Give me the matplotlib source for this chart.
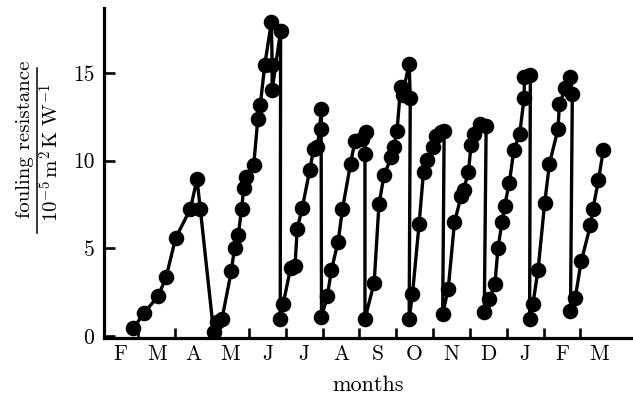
import matplotlib
matplotlib.use("Agg")
import matplotlib.pyplot as plt
import numpy as np

# months elapsed since 1 February (x) and fouling resistance, 1e-5 m2 K / W (y)
months_x = [0.86, 1.16, 1.54, 1.75, 2.01, 2.41, 2.59, 2.68,
            3.04, 3.13, 3.27,
            3.52, 3.61, 3.71, 3.80, 3.86, 3.92, 4.13, 4.24, 4.31, 4.43, 4.61, 4.63, 4.63, 4.86,
            4.85, 4.93, 5.13, 5.25,
            5.31, 5.45, 5.65, 5.76, 5.86, 5.97, 5.96,
            5.97, 6.13, 6.24, 6.42, 6.54, 6.76, 6.88, 7.06, 7.17, 7.15,
            7.15, 7.40, 7.53, 7.67, 7.87, 7.93, 8.02, 8.12, 8.17, 8.35, 8.38,
            8.35, 8.44, 8.62, 8.74, 8.83, 8.99, 9.08, 9.21, 9.30,
            9.26, 9.41, 9.58, 9.76, 9.83, 9.96, 10.03, 10.12, 10.26, 10.44,
            10.39, 10.53, 10.68, 10.76, 10.87, 10.94, 11.07, 11.19, 11.35, 11.47, 11.48, 11.64,
            11.62, 11.71, 11.85, 12.03, 12.16, 12.39, 12.43, 12.59, 12.73, 12.78,
            12.73, 12.86, 13.02, 13.27, 13.34, 13.49, 13.62]
resistance = [0.45, 1.34, 2.30, 3.36, 5.6, 7.25, 8.95, 7.25,
              0.25, 0.8, 1.0,
              3.7, 5.04, 5.75, 7.25, 8.45, 9.1, 9.75, 12.36, 13.2, 15.47, 17.9, 15.43, 14.03, 17.4,
              1.0, 1.85, 3.88, 3.98,
              6.12, 7.33, 9.47, 10.68, 10.78, 12.92, 11.8,
              1.09, 2.3, 3.79, 5.37, 7.25, 9.84, 11.15, 11.24, 11.61, 10.4,
              1.0, 3.04, 7.51, 9.19, 10.22, 10.78, 11.7, 14.22, 13.75, 15.53, 13.57,
              1.0, 2.4, 6.4, 9.38, 10.03, 10.78, 11.42, 11.61, 11.67,
              1.28, 2.68, 6.49, 7.98, 8.35, 9.38, 10.87, 11.52, 12.08, 11.98,
              1.37, 2.12, 3.0, 5.0, 6.49, 7.42, 8.73, 10.59, 11.52, 13.57, 14.78, 14.87,
              1.0, 1.84, 3.79, 7.61, 9.84, 11.8, 13.23, 14.13, 14.78, 13.79,
              1.46, 2.2, 4.26, 6.31, 7.25, 8.91, 10.59]

month_labels = ['F', 'M', 'A', 'M', 'J', 'J', 'A', 'S', 'O', 'N', 'D', 'J', 'F', 'M']
y_ticks = [0, 5, 10, 15]

plt.rcParams['font.family'] = 'cmr10'
plt.rcParams['mathtext.fontset'] = 'cm'
plt.rcParams['axes.formatter.use_mathtext'] = True

W, H = 633, 398
fig = plt.figure(figsize=(W / 100, H / 100), dpi=100)
ax = fig.add_axes([104 / W, (H - 338) / H, (632 - 104) / W, (338 - 8) / H])

ax.plot(months_x, resistance, color='black', lw=2.4, marker='o',
        markersize=10.2, markerfacecolor='black', markeredgecolor='black')

ax.set_xlim(0.065, 14.4)
ax.set_ylim(-0.1, 18.7)

for s in ['top', 'right']:
    ax.spines[s].set_visible(False)
for s in ['left', 'bottom']:
    ax.spines[s].set_linewidth(2.3)

ax.set_yticks(y_ticks)
ax.set_yticklabels([str(v) for v in y_ticks], fontsize=15.5)
ax.tick_params(axis='y', direction='in', length=8, width=1.9, pad=7)

n = len(month_labels)
ax.set_xticks(np.arange(1, n))
ax.set_xticklabels([])
ax.tick_params(axis='x', which='major', direction='in', length=7, width=1.9)
ax.set_xticks(np.arange(n) + 0.5, minor=True)
ax.set_xticklabels(month_labels, minor=True, fontsize=15.5)
ax.tick_params(axis='x', which='minor', length=0, pad=5)

ax.set_xlabel('months', fontsize=16, labelpad=8)

# y-axis label as a fraction: numerator, bar, denominator
fig.text(25 / W, 1 - 139 / H, 'fouling resistance', rotation=90,
         ha='center', va='center', fontsize=15)
fig.text(51 / W, 1 - 153 / H, r'$10^{-5}\,\mathrm{m}^{2}\,\mathrm{K}\ \mathrm{W}^{-1}$',
         rotation=90, ha='center', va='center', fontsize=15)
fig.add_artist(plt.Line2D([37 / W, 37 / W], [1 - 233 / H, 1 - 68 / H],
                          transform=fig.transFigure, color='black', lw=1.1))

fig.savefig('out.png', dpi=100)
